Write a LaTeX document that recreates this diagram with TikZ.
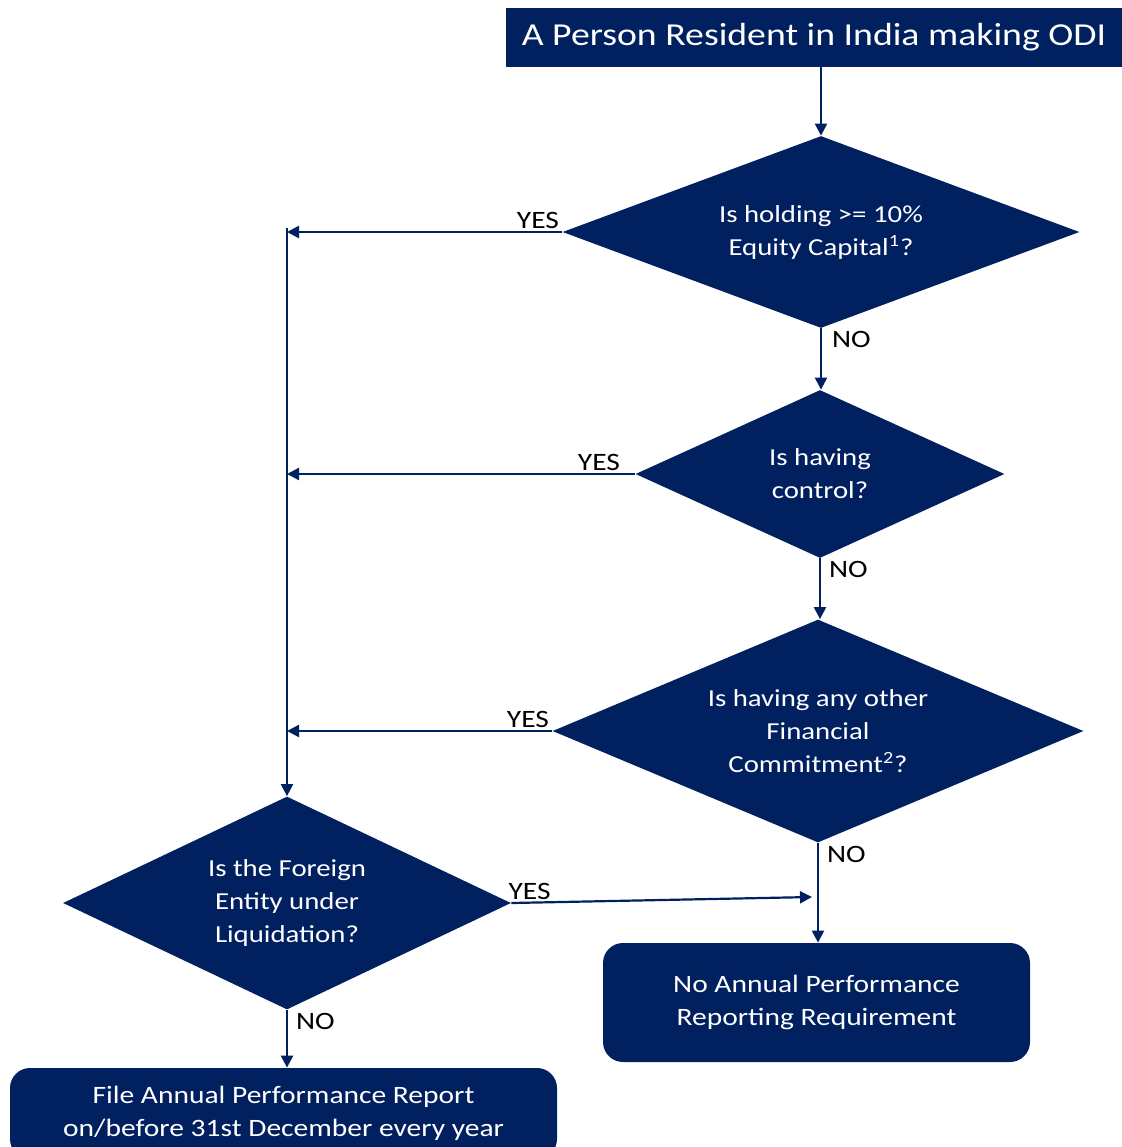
\documentclass[tikz,border=0pt]{standalone}
\usepackage{fontspec}
\setmainfont{Carlito}[FakeStretch=1.18]
\usetikzlibrary{shapes.geometric,arrows.meta}
\definecolor{odiblue}{HTML}{002060}

\begin{document}
\begin{tikzpicture}[x=0.5pt,y=-0.5pt,
  box/.style={fill=odiblue,text=white,align=center,inner sep=0pt},
  decision/.style={diamond,fill=odiblue,text=white,align=center,inner sep=0pt,font=\fontsize{12.2}{16.5}\selectfont},
  flow/.style={odiblue,line width=1.1pt,-{Triangle[length=6pt,width=6pt]}},
  ans/.style={text=black,font=\fontsize{12.5}{14}\selectfont,inner sep=1pt}]
\useasboundingbox (0,0) rectangle (1122,1147);

\node[box,minimum width=308pt,minimum height=29.5pt,font=\fontsize{16}{19}\selectfont] (start) at (814,37.5) {A Person Resident in India making ODI};

\node[decision,aspect=2.69,minimum width=258.5pt,minimum height=96pt] (q1) at (821,232) {Is holding >= 10\%\\Equity Capital\textsuperscript{1}?};
\node[decision,aspect=2.2,minimum width=184.5pt,minimum height=84pt] (q2) at (820,474) {Is having\\control?};
\node[decision,aspect=2.38,minimum width=265.5pt,minimum height=111.5pt] (q3) at (818,731) {Is having any other\\Financial\\Commitment\textsuperscript{2}?};
\node[decision,aspect=2.1,minimum width=224pt,minimum height=106.5pt] (q4) at (287,903) {Is the Foreign\\Entity under\\Liquidation?};

\node[box,rounded corners=10pt,minimum width=213.5pt,minimum height=59.5pt,font=\fontsize{12.5}{16.5}\selectfont] (none) at (816.5,1002.5) {No Annual Performance\\Reporting Requirement};
\node[box,rounded corners=10pt,minimum width=273.5pt,minimum height=45.5pt,font=\fontsize{12.5}{16.5}\selectfont] (apr) at (283.5,1113.5) {File Annual Performance Report\\on/before 31st December every year};

\coordinate (trunk) at (287,228);
\coordinate (merge) at (812,897);

% main line
\draw[flow] (q1.north |- start.south) -- (q1.north);
\draw[flow] (q1.south) -- (q1.south |- q2.north) node[ans,anchor=north west,pos=0,xshift=4pt] {NO};
\draw[flow] (q2.south) -- (q2.south |- q3.north) node[ans,anchor=north west,pos=0,xshift=3pt] {NO};
\draw[flow] (q3.south) -- (q3.south |- none.north) node[ans,anchor=north west,pos=0,xshift=3pt] {NO};

% yes branches
\draw[flow] (q1.west) -- (q1.west -| trunk) node[ans,anchor=south east,pos=0] {YES};
\draw[flow] (q2.west) -- (q2.west -| trunk) node[ans,anchor=south east,pos=0,xshift=-6pt] {YES};
\draw[flow] (q3.west) -- (q3.west -| trunk) node[ans,anchor=south east,pos=0] {YES};
\draw[flow] (trunk) -- (q4.north);

\draw[flow] (q4.east) -- (merge) node[ans,anchor=south west,pos=0,xshift=-3pt] {YES};
\draw[flow] (q4.south) -- (q4.south |- apr.north) node[ans,anchor=north west,pos=0,xshift=3pt] {NO};

\end{tikzpicture}
\end{document}
